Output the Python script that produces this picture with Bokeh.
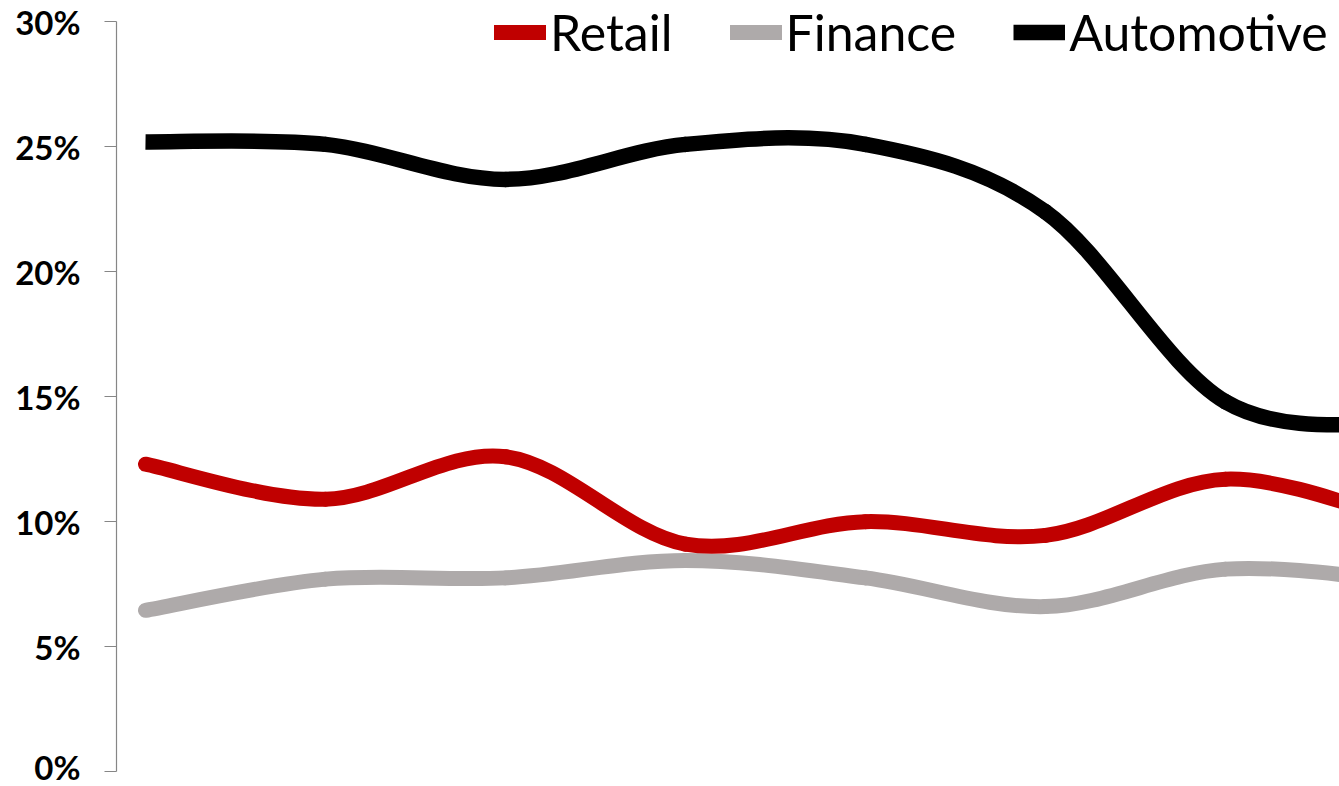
from bokeh.plotting import figure
from bokeh.models import Range1d, FixedTicker, PrintfTickFormatter, Legend, LegendItem
from bokeh.embed import file_html
from bokeh.resources import INLINE

# ---- data (percent) ----
periods = [0, 1, 2, 3, 4, 5, 6, 7]
retail = [12.3, 10.9, 12.6, 9.1, 10.0, 9.45, 11.7, 10.0]
finance = [6.45, 7.7, 7.75, 8.45, 7.75, 6.6, 8.1, 7.6]
automotive = [25.2, 25.1, 23.7, 25.1, 25.1, 22.4, 14.8, 13.9]
y_ticks = [0, 5, 10, 15, 20, 25, 30]

RED = "#C00000"
GRAY = "#AEAAAA"
BLACK = "#000000"


def smooth_segments(xs, ys):
    """Bezier control points for an Excel-style smoothed line through the data."""
    n = len(xs)
    def P(i):
        i = max(0, min(n - 1, i))
        return xs[i], ys[i]
    d = dict(x0=[], y0=[], x1=[], y1=[], cx0=[], cy0=[], cx1=[], cy1=[])
    for i in range(n - 1):
        xa, ya = P(i); xb, yb = P(i + 1)
        xp, yp = P(i - 1); xn, yn = P(i + 2)
        d["x0"].append(xa); d["y0"].append(ya)
        d["x1"].append(xb); d["y1"].append(yb)
        d["cx0"].append(xa + (xb - xp) / 6.0); d["cy0"].append(ya + (yb - yp) / 6.0)
        d["cx1"].append(xb - (xn - xa) / 6.0); d["cy1"].append(yb - (yn - ya) / 6.0)
    return d


def part(d, sl):
    return {k: v[sl] for k, v in d.items()}


p = figure(width=1339, height=786,
           x_range=Range1d(-29 / 180, 1194 / 180),
           y_range=Range1d(-0.6, 30.86),
           x_axis_type=None,
           min_border_left=116, min_border_right=0,
           min_border_top=0, min_border_bottom=0,
           toolbar_location=None, output_backend="svg")
p.outline_line_color = None
p.grid.visible = False
p.background_fill_color = "white"
p.border_fill_color = "white"

yax = p.yaxis[0]
yax.ticker = FixedTicker(ticks=y_ticks)
yax.formatter = PrintfTickFormatter(format="%d%%")
yax.bounds = (0, 30)
yax.axis_line_color = "#868686"
yax.axis_line_width = 1.2
yax.major_tick_line_color = "#868686"
yax.major_tick_line_width = 1.2
yax.major_tick_out = 12
yax.major_tick_in = 0
yax.minor_tick_line_color = None
yax.major_label_standoff = 24
yax.major_label_text_font = "Lato"
yax.major_label_text_font_style = "bold"
yax.major_label_text_font_size = "33px"
yax.major_label_text_color = "black"

r_fin = p.bezier(line_color=GRAY, line_width=15, line_cap="round",
                 **smooth_segments(periods, finance))
r_ret = p.bezier(line_color=RED, line_width=15, line_cap="round",
                 **smooth_segments(periods, retail))
aut = smooth_segments(periods, automotive)
# first segment with a flat start, the rest with round joins (no seams)
r_aut = p.bezier(line_color=BLACK, line_width=15.5, line_cap="butt",
                 **part(aut, slice(0, 1)))
p.bezier(line_color=BLACK, line_width=15.5, line_cap="round",
         **part(aut, slice(1, None)))

legend = Legend(items=[LegendItem(label="Retail", renderers=[r_ret]),
                       LegendItem(label="Finance", renderers=[r_fin]),
                       LegendItem(label="Automotive", renderers=[r_aut])],
                orientation="horizontal", location=(378, 724),
                border_line_color=None, background_fill_alpha=0,
                padding=0, margin=0, spacing=57,
                glyph_width=52, glyph_height=20, label_standoff=4,
                label_text_font="Lato", label_text_font_size="50px",
                label_text_color="black")
p.add_layout(legend)

open("out.html", "w").write(file_html(p, INLINE))
